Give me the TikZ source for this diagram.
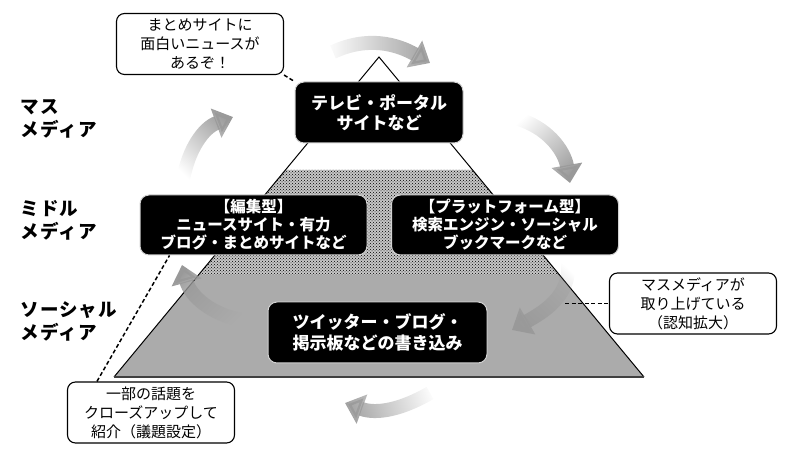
\documentclass[tikz,border=0pt]{standalone}
\usepackage{fontspec}
\setmainfont{Noto Sans CJK JP}
\usetikzlibrary{arrows.meta,patterns,fadings,calc}

\tikzset{
  bigbox/.style={rectangle, rounded corners=9pt, fill=black, draw=gray!35, line width=1pt,
    text=white, align=center, inner sep=0pt, minimum width=168pt, minimum height=61pt,
    font=\fontsize{17}{20.5}\selectfont\bfseries},
  midbox/.style={bigbox, minimum width=227pt, minimum height=60pt,
    font=\fontsize{15.5}{18}\selectfont\bfseries},
  notebox/.style={rectangle, rounded corners=8pt, fill=white, draw=black, line width=1.1pt,
    align=center, inner sep=0pt, minimum width=167pt, minimum height=61pt,
    font=\fontsize{15}{19}\selectfont},
  layertext/.style={anchor=west, align=left,
    font=\fontsize{18.5}{23}\selectfont\bfseries\addfontfeature{LetterSpace=6}},
  cyclearrow/.style={line width=14pt, black!40, -{Triangle[width=30pt,length=18pt]},
    path fading=east},
  linkline/.style={line width=1.5pt, dash pattern=on 4pt off 2.5pt}
}

\begin{document}
\begin{tikzpicture}[x=1pt,y=1pt]
    \useasboundingbox (0,0) rectangle (804,452);

    % Pyramid
    \coordinate (apex) at (379,395);
    \coordinate (bl) at (114,75);
    \coordinate (br) at (644,75);
    \coordinate (hl) at ($(apex)!0.353!(bl)$);
    \coordinate (hr) at ($(apex)!0.353!(br)$);
    \coordinate (ml) at ($(apex)!0.681!(bl)$);
    \coordinate (mr) at ($(apex)!0.681!(br)$);
    \fill[black!22] (hl) -- (hr) -- (mr) -- (ml) -- cycle;
    \fill[pattern=crosshatch dots, pattern color=black] (hl) -- (hr) -- (mr) -- (ml) -- cycle;
    \fill[black!33] (ml) -- (mr) -- (br) -- (bl) -- cycle;
    \draw[line width=1pt] (bl) -- (apex) -- (br);
    \draw[line width=2pt, black!75] (bl) -- (br);

    % Cycle arrows
    \draw[cyclearrow, fading angle=180] (333,400) to[out=25,in=150] (430,389);
    \draw[cyclearrow, fading angle=130] (515,334) to[out=-15,in=100] (570,269);
    \draw[cyclearrow, fading angle=50] (568,189) to[out=-85,in=30] (512,122);
    \draw[cyclearrow, fading angle=7] (430,59) to[out=210,in=-20] (345,49);
    \draw[cyclearrow, fading angle=-42] (242,132) to[out=170,in=-75] (182,187);
    \draw[cyclearrow, fading angle=232] (183,272) to[out=80,in=200] (233,335);

    % Layer labels
    \node[layertext] (mass) at (17,333.5) {マス\\メディア};
    \node[layertext] (middle) at (17,232) {ミドル\\メディア};
    \node[layertext] (social) at (17,130.5) {ソーシャル\\メディア};

    % Media boxes
    \node[bigbox] (tv) at (379,339.5) {テレビ・ポータル\\サイトなど};
    \node[midbox] (edit) at (253.5,227) {【編集型】\\ニュースサイト・有力\\ブログ・まとめサイトなど};
    \node[midbox] (platform) at (505,227) {【プラットフォーム型】\\検索エンジン・ソーシャル\\ブックマークなど};
    \node[bigbox, minimum width=219pt] (post) at (377.5,119.5) {ツイッター・ブログ・\\掲示板などの書き込み};

    % Notes
    \node[notebox] (matome) at (200,408) {まとめサイトに\\面白いニュースが\\あるぞ！};
    \node[notebox] (pickup) at (693,148.5) {マスメディアが\\取り上げている\\（認知拡大）};
    \node[notebox] (agenda) at (151,39.5) {一部の話題を\\クローズアップして\\紹介（議題設定）};

    % Links
    \coordinate (edgept) at (565,148.5);
    \draw[linkline] (matome.south east) -- (tv.north west);
    \draw[linkline] (edgept) -- (pickup.west);
    \draw[linkline] ([xshift=30pt]agenda.north west) -- ([xshift=30pt]edit.south west);
\end{tikzpicture}
\end{document}
